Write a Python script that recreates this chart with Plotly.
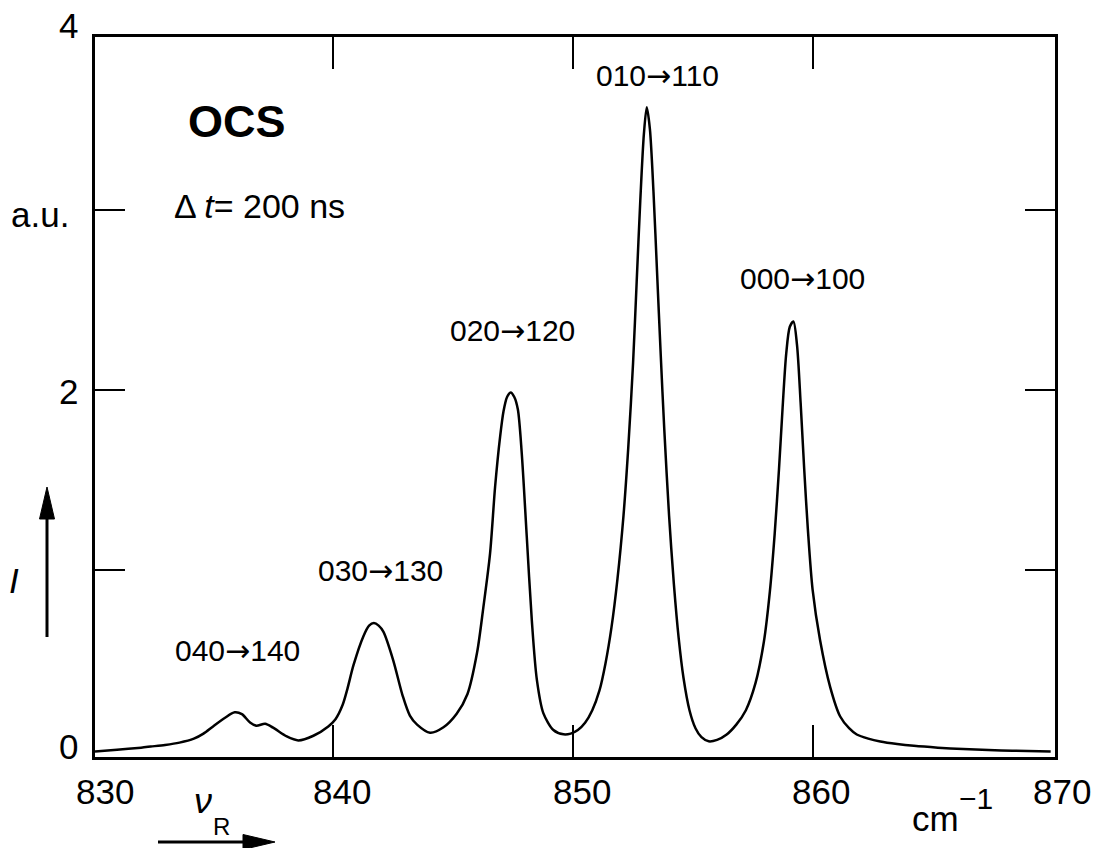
import plotly.graph_objects as go

# Spectrum: wavenumber (cm^-1) and intensity (a.u.)
wavenumber = [830.08, 831.0, 832.0, 832.4, 833.0, 833.6, 834.2, 834.6, 835.0, 835.5,
              835.9, 836.2, 836.54, 836.8, 837.17, 837.5, 838.07, 838.55, 839.18, 839.8,
              840.1, 840.4, 840.6, 840.85, 841.26, 841.5, 841.7, 841.9, 842.1, 842.5,
              842.9, 843.2, 843.5, 844.04, 844.6, 845.15, 845.6, 846.0, 846.26, 846.54,
              846.75, 846.96, 847.1, 847.25, 847.4, 847.55, 847.7, 847.86, 848.07, 848.28,
              848.49, 848.76, 849.18, 849.6, 849.9, 850.2, 850.5, 850.8, 851.1, 851.35,
              851.6, 851.85, 852.1, 852.3, 852.5, 852.65, 852.8, 852.95, 853.07, 853.2,
              853.35, 853.5, 853.65, 853.8, 854.0, 854.2, 854.4, 854.6, 854.85, 855.1,
              855.35, 855.65, 856.0, 856.4, 856.8, 857.2, 857.6, 857.95, 858.2, 858.4,
              858.58, 858.73, 858.88, 859.03, 859.18, 859.33, 859.48, 859.63, 859.78, 859.98,
              860.29, 860.71, 861.13, 861.5, 861.82, 862.3, 862.8, 863.5, 864.2, 865.2,
              866.25, 867.3, 868.3, 869.9]
intensity = [-0.01, 0.0, 0.012, 0.018, 0.027, 0.04, 0.062, 0.09, 0.13, 0.178,
             0.208, 0.198, 0.152, 0.134, 0.145, 0.123, 0.074, 0.052, 0.078, 0.13,
             0.17, 0.25, 0.34, 0.47, 0.63, 0.69, 0.704, 0.69, 0.655, 0.50,
             0.30, 0.19, 0.14, 0.095, 0.125, 0.20, 0.31, 0.54, 0.79, 1.09,
             1.46, 1.74, 1.88, 1.96, 1.985, 1.96, 1.89, 1.65, 1.185, 0.72,
             0.39, 0.204, 0.11, 0.086, 0.09, 0.11, 0.15, 0.22, 0.33, 0.48,
             0.68, 0.95, 1.30, 1.68, 2.15, 2.60, 3.05, 3.42, 3.57, 3.45,
             3.10, 2.65, 2.20, 1.78, 1.30, 0.92, 0.62, 0.40, 0.22, 0.12,
             0.07, 0.047, 0.055, 0.085, 0.14, 0.22, 0.37, 0.60, 0.88, 1.20,
             1.56, 1.90, 2.20, 2.35, 2.38, 2.25, 1.93, 1.56, 1.23, 0.89,
             0.61, 0.35, 0.185, 0.12, 0.085, 0.062, 0.046, 0.032, 0.022, 0.012,
             0.004, -0.001, -0.005, -0.01]

x_tick_values = [840, 850, 860]
x_tick_labels = ["830", "840", "850", "860", "870"]
y_tick_values = [1, 2, 3]
y_tick_labels = ["4", "a.u.", "2", "0"]
peak_from = ["040", "030", "020", "010", "000"]
peak_to = ["140", "130", "120", "110", "100"]

FONT = "Liberation Sans, Arial, sans-serif"
L, R, T, B = 95, 1055, 37, 757


def px(x):
    return (x - L) / (R - L)


def py(y):
    return (B - y) / (B - T)


fig = go.Figure()
fig.add_trace(go.Scatter(x=wavenumber, y=intensity, mode="lines",
                         line=dict(color="black", width=2.5, shape="spline", smoothing=0.8),
                         hoverinfo="skip"))

ann = []


def text(t, x, y, size, xanchor="center", yanchor="middle"):
    ann.append(dict(text=t, x=px(x), y=py(y), xref="paper", yref="paper", showarrow=False,
                    xanchor=xanchor, yanchor=yanchor, font=dict(family=FONT, size=size, color="black")))


# y-axis labels
for lab, xx, yy in zip(y_tick_labels, [68, 40, 68, 68], [25, 214, 391, 746]):
    text(lab, xx, yy, 35)
text("<i>I</i>", 14, 580, 35)
# x-axis labels
for lab, xx in zip(x_tick_labels, [105, 342, 582, 821, 1062]):
    text(lab, xx, 791, 35)
text("cm", 935, 818, 35)
text("\u22121", 976, 798, 30)
text("<i>\u03bd</i>", 203, 800, 36)
text("R", 221, 826, 24)
# headline texts
text("<b>OCS</b>", 237, 121, 45)
text("\u0394 <i>t</i>= 200 ns", 172, 206, 34, xanchor="left")
# peak labels
ARROW = "<span style='font-family:DejaVu Sans'>\u2192</span>"
for a, b, xx, yy in zip(peak_from, peak_to, [237, 380, 512, 657, 802], [650, 570, 330, 75, 278]):
    text(a + ARROW + b, xx, yy, 30)

shapes = [
    dict(type="line", xref="paper", yref="paper", x0=px(47), x1=px(47), y0=py(637), y1=py(515),
         line=dict(color="black", width=3)),
    dict(type="path", xref="paper", yref="paper",
         path=f"M {px(47)},{py(487)} L {px(39.5)},{py(519)} L {px(54.5)},{py(519)} Z",
         fillcolor="black", line=dict(color="black", width=1)),
    dict(type="line", xref="paper", yref="paper", x0=px(158), x1=px(246), y0=py(842), y1=py(842),
         line=dict(color="black", width=3)),
    dict(type="path", xref="paper", yref="paper",
         path=f"M {px(275)},{py(842)} L {px(243)},{py(834.5)} L {px(243)},{py(849.5)} Z",
         fillcolor="black", line=dict(color="black", width=1)),
]

fig.update_layout(
    width=1099, height=848,
    margin=dict(l=L, r=1099 - R, t=T, b=848 - B),
    paper_bgcolor="white", plot_bgcolor="white",
    showlegend=False,
    annotations=ann, shapes=shapes,
    xaxis=dict(range=[830.08, 870.08], tickvals=x_tick_values, showticklabels=False,
               ticks="inside", ticklen=32, tickwidth=2, tickcolor="black",
               showline=True, linewidth=3, linecolor="black", mirror="ticks",
               showgrid=False, zeroline=False),
    yaxis=dict(range=[-0.04, 3.96], tickvals=y_tick_values, showticklabels=False,
               ticks="inside", ticklen=30, tickwidth=2, tickcolor="black",
               showline=True, linewidth=3, linecolor="black", mirror="ticks",
               showgrid=False, zeroline=False),
)

fig.write_html("out.html")
